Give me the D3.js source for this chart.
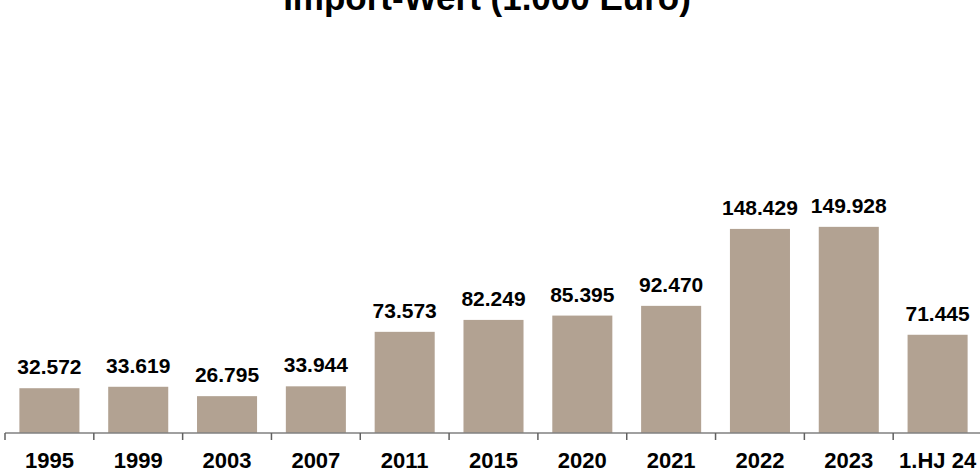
<!DOCTYPE html>
<html>
<head>
<meta charset="utf-8">
<script src="https://cdn.jsdelivr.net/npm/d3@7"></script>
<style>
  body { margin: 0; background: #fff; }
  text { font-family: "Liberation Sans", Arial, sans-serif; font-weight: bold; }
</style>
</head>
<body>
<div id="chart"></div>
<script>
// DATA
const years = ["1995", "1999", "2003", "2007", "2011", "2015", "2020", "2021", "2022", "2023", "1.HJ 24"];
const importValues = [32572, 33619, 26795, 33944, 73573, 82249, 85395, 92470, 148429, 149928, 71445];
const title = "Import-Wert (1.000 Euro)";

const W = 980, H = 472;
const axisY = 433;

const svg = d3.select("#chart").append("svg")
  .attr("width", W)
  .attr("height", H);

// SCALES
const x = d3.scaleBand(years, [5, 982]).paddingInner(0.324).paddingOuter(0.162);
const y = d3.scaleLinear([0, 160000], [axisY, axisY - 220]);
const fmt = v => d3.format(",")(v).replace(/,/g, ".");

// TITLE (partly cut off at the top, as in the original)
svg.append("text")
  .attr("x", 487)
  .attr("y", 10)
  .attr("text-anchor", "middle")
  .attr("font-size", "35px")
  .text(title);

// BARS
svg.selectAll("rect.bar")
  .data(importValues)
  .enter()
  .append("rect")
  .attr("class", "bar")
  .attr("x", (d, i) => x(years[i]))
  .attr("y", d => y(d))
  .attr("width", x.bandwidth())
  .attr("height", d => axisY - y(d))
  .style("fill", "#b2a292");

// VALUE LABELS
svg.selectAll("text.val")
  .data(importValues)
  .enter()
  .append("text")
  .attr("class", "val")
  .attr("x", (d, i) => x(years[i]) + x.bandwidth() / 2)
  .attr("y", d => y(d) - 14)
  .attr("text-anchor", "middle")
  .attr("font-size", "21px")
  .text(d => fmt(d));

// AXIS
const xAxis = d3.axisBottom(x).tickSize(0).tickPadding(0);
const gx = svg.append("g")
  .attr("transform", `translate(0,${axisY})`)
  .call(xAxis);
gx.select(".domain").attr("stroke", "#808080").attr("stroke-width", 1.5)
  .attr("d", `M5,0H980`);
gx.selectAll(".tick text")
  .attr("y", 35)
  .attr("dy", null)
  .attr("font-size", "22px")
  .attr("font-family", "Liberation Sans, Arial, sans-serif")
  .attr("font-weight", "bold")
  .attr("fill", "#000");

// tick marks at category boundaries
const step = x.step();
const bounds = years.map((d, i) => x(d) - x.paddingOuter() * step);
gx.selectAll("line.sep")
  .data(bounds)
  .enter()
  .append("line")
  .attr("class", "sep")
  .attr("x1", d => d)
  .attr("x2", d => d)
  .attr("y1", 0)
  .attr("y2", 7)
  .attr("stroke", "#606060")
  .attr("stroke-width", 1.5);
</script>
</body>
</html>
